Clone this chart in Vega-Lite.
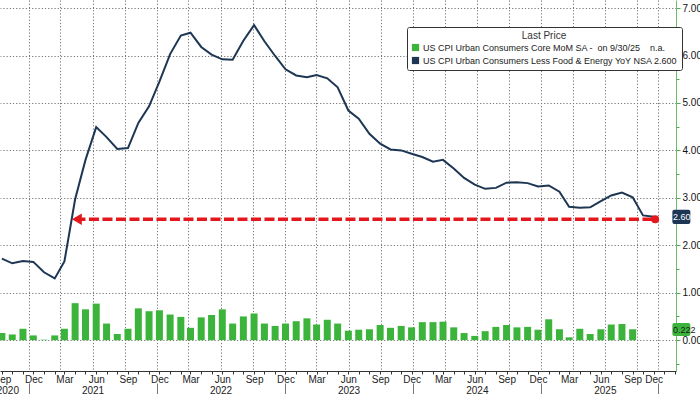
{
  "$schema": "https://vega.github.io/schema/vega-lite/v6.json",
  "width": 676,
  "height": 371,
  "autosize": {"type": "none"},
  "padding": {"left": 0, "top": 0, "right": 24, "bottom": 23},
  "background": "white",
  "config": {"font": "Liberation Sans", "view": {"stroke": null}},
  "datasets": {
    "cpi": [
      {"d": "2020-09-01T00:00", "s": "mom", "v": 0.15},
      {"d": "2020-10-01T00:00", "s": "mom", "v": 0.12},
      {"d": "2020-11-01T00:00", "s": "mom", "v": 0.24},
      {"d": "2020-12-01T00:00", "s": "mom", "v": 0.10},
      {"d": "2021-01-01T00:00", "s": "mom", "v": 0.01},
      {"d": "2021-02-01T00:00", "s": "mom", "v": 0.10},
      {"d": "2021-03-01T00:00", "s": "mom", "v": 0.24},
      {"d": "2021-04-01T00:00", "s": "mom", "v": 0.78},
      {"d": "2021-05-01T00:00", "s": "mom", "v": 0.65},
      {"d": "2021-06-01T00:00", "s": "mom", "v": 0.77},
      {"d": "2021-07-01T00:00", "s": "mom", "v": 0.35},
      {"d": "2021-08-01T00:00", "s": "mom", "v": 0.13},
      {"d": "2021-09-01T00:00", "s": "mom", "v": 0.24},
      {"d": "2021-10-01T00:00", "s": "mom", "v": 0.67},
      {"d": "2021-11-01T00:00", "s": "mom", "v": 0.61},
      {"d": "2021-12-01T00:00", "s": "mom", "v": 0.63},
      {"d": "2022-01-01T00:00", "s": "mom", "v": 0.54},
      {"d": "2022-02-01T00:00", "s": "mom", "v": 0.49},
      {"d": "2022-03-01T00:00", "s": "mom", "v": 0.26},
      {"d": "2022-04-01T00:00", "s": "mom", "v": 0.48},
      {"d": "2022-05-01T00:00", "s": "mom", "v": 0.53},
      {"d": "2022-06-01T00:00", "s": "mom", "v": 0.65},
      {"d": "2022-07-01T00:00", "s": "mom", "v": 0.35},
      {"d": "2022-08-01T00:00", "s": "mom", "v": 0.50},
      {"d": "2022-09-01T00:00", "s": "mom", "v": 0.56},
      {"d": "2022-10-01T00:00", "s": "mom", "v": 0.35},
      {"d": "2022-11-01T00:00", "s": "mom", "v": 0.30},
      {"d": "2022-12-01T00:00", "s": "mom", "v": 0.35},
      {"d": "2023-01-01T00:00", "s": "mom", "v": 0.40},
      {"d": "2023-02-01T00:00", "s": "mom", "v": 0.46},
      {"d": "2023-03-01T00:00", "s": "mom", "v": 0.33},
      {"d": "2023-04-01T00:00", "s": "mom", "v": 0.43},
      {"d": "2023-05-01T00:00", "s": "mom", "v": 0.35},
      {"d": "2023-06-01T00:00", "s": "mom", "v": 0.20},
      {"d": "2023-07-01T00:00", "s": "mom", "v": 0.22},
      {"d": "2023-08-01T00:00", "s": "mom", "v": 0.23},
      {"d": "2023-09-01T00:00", "s": "mom", "v": 0.32},
      {"d": "2023-10-01T00:00", "s": "mom", "v": 0.26},
      {"d": "2023-11-01T00:00", "s": "mom", "v": 0.30},
      {"d": "2023-12-01T00:00", "s": "mom", "v": 0.27},
      {"d": "2024-01-01T00:00", "s": "mom", "v": 0.38},
      {"d": "2024-02-01T00:00", "s": "mom", "v": 0.38},
      {"d": "2024-03-01T00:00", "s": "mom", "v": 0.39},
      {"d": "2024-04-01T00:00", "s": "mom", "v": 0.27},
      {"d": "2024-05-01T00:00", "s": "mom", "v": 0.15},
      {"d": "2024-06-01T00:00", "s": "mom", "v": 0.09},
      {"d": "2024-07-01T00:00", "s": "mom", "v": 0.19},
      {"d": "2024-08-01T00:00", "s": "mom", "v": 0.28},
      {"d": "2024-09-01T00:00", "s": "mom", "v": 0.32},
      {"d": "2024-10-01T00:00", "s": "mom", "v": 0.27},
      {"d": "2024-11-01T00:00", "s": "mom", "v": 0.28},
      {"d": "2024-12-01T00:00", "s": "mom", "v": 0.22},
      {"d": "2025-01-01T00:00", "s": "mom", "v": 0.44},
      {"d": "2025-02-01T00:00", "s": "mom", "v": 0.23},
      {"d": "2025-03-01T00:00", "s": "mom", "v": 0.06},
      {"d": "2025-04-01T00:00", "s": "mom", "v": 0.24},
      {"d": "2025-05-01T00:00", "s": "mom", "v": 0.13},
      {"d": "2025-06-01T00:00", "s": "mom", "v": 0.23},
      {"d": "2025-07-01T00:00", "s": "mom", "v": 0.33},
      {"d": "2025-08-01T00:00", "s": "mom", "v": 0.34},
      {"d": "2025-09-01T00:00", "s": "mom", "v": 0.23},
      {"d": "2020-09-01T00:00", "s": "yoy", "v": 1.72},
      {"d": "2020-10-01T00:00", "s": "yoy", "v": 1.62},
      {"d": "2020-11-01T00:00", "s": "yoy", "v": 1.67},
      {"d": "2020-12-01T00:00", "s": "yoy", "v": 1.65},
      {"d": "2021-01-01T00:00", "s": "yoy", "v": 1.43},
      {"d": "2021-02-01T00:00", "s": "yoy", "v": 1.30},
      {"d": "2021-03-01T00:00", "s": "yoy", "v": 1.66},
      {"d": "2021-04-01T00:00", "s": "yoy", "v": 2.97},
      {"d": "2021-05-01T00:00", "s": "yoy", "v": 3.80},
      {"d": "2021-06-01T00:00", "s": "yoy", "v": 4.49},
      {"d": "2021-07-01T00:00", "s": "yoy", "v": 4.28},
      {"d": "2021-08-01T00:00", "s": "yoy", "v": 4.03},
      {"d": "2021-09-01T00:00", "s": "yoy", "v": 4.05},
      {"d": "2021-10-01T00:00", "s": "yoy", "v": 4.58},
      {"d": "2021-11-01T00:00", "s": "yoy", "v": 4.93},
      {"d": "2021-12-01T00:00", "s": "yoy", "v": 5.45},
      {"d": "2022-01-01T00:00", "s": "yoy", "v": 6.03},
      {"d": "2022-02-01T00:00", "s": "yoy", "v": 6.42},
      {"d": "2022-03-01T00:00", "s": "yoy", "v": 6.48},
      {"d": "2022-04-01T00:00", "s": "yoy", "v": 6.18},
      {"d": "2022-05-01T00:00", "s": "yoy", "v": 6.02},
      {"d": "2022-06-01T00:00", "s": "yoy", "v": 5.92},
      {"d": "2022-07-01T00:00", "s": "yoy", "v": 5.91},
      {"d": "2022-08-01T00:00", "s": "yoy", "v": 6.31},
      {"d": "2022-09-01T00:00", "s": "yoy", "v": 6.64},
      {"d": "2022-10-01T00:00", "s": "yoy", "v": 6.30},
      {"d": "2022-11-01T00:00", "s": "yoy", "v": 5.99},
      {"d": "2022-12-01T00:00", "s": "yoy", "v": 5.71},
      {"d": "2023-01-01T00:00", "s": "yoy", "v": 5.58},
      {"d": "2023-02-01T00:00", "s": "yoy", "v": 5.54},
      {"d": "2023-03-01T00:00", "s": "yoy", "v": 5.59},
      {"d": "2023-04-01T00:00", "s": "yoy", "v": 5.52},
      {"d": "2023-05-01T00:00", "s": "yoy", "v": 5.33},
      {"d": "2023-06-01T00:00", "s": "yoy", "v": 4.84},
      {"d": "2023-07-01T00:00", "s": "yoy", "v": 4.67},
      {"d": "2023-08-01T00:00", "s": "yoy", "v": 4.35},
      {"d": "2023-09-01T00:00", "s": "yoy", "v": 4.14},
      {"d": "2023-10-01T00:00", "s": "yoy", "v": 4.02},
      {"d": "2023-11-01T00:00", "s": "yoy", "v": 4.00},
      {"d": "2023-12-01T00:00", "s": "yoy", "v": 3.93},
      {"d": "2024-01-01T00:00", "s": "yoy", "v": 3.86},
      {"d": "2024-02-01T00:00", "s": "yoy", "v": 3.76},
      {"d": "2024-03-01T00:00", "s": "yoy", "v": 3.80},
      {"d": "2024-04-01T00:00", "s": "yoy", "v": 3.62},
      {"d": "2024-05-01T00:00", "s": "yoy", "v": 3.42},
      {"d": "2024-06-01T00:00", "s": "yoy", "v": 3.28},
      {"d": "2024-07-01T00:00", "s": "yoy", "v": 3.19},
      {"d": "2024-08-01T00:00", "s": "yoy", "v": 3.21},
      {"d": "2024-09-01T00:00", "s": "yoy", "v": 3.32},
      {"d": "2024-10-01T00:00", "s": "yoy", "v": 3.33},
      {"d": "2024-11-01T00:00", "s": "yoy", "v": 3.31},
      {"d": "2024-12-01T00:00", "s": "yoy", "v": 3.24},
      {"d": "2025-01-01T00:00", "s": "yoy", "v": 3.26},
      {"d": "2025-02-01T00:00", "s": "yoy", "v": 3.13},
      {"d": "2025-03-01T00:00", "s": "yoy", "v": 2.81},
      {"d": "2025-04-01T00:00", "s": "yoy", "v": 2.79},
      {"d": "2025-05-01T00:00", "s": "yoy", "v": 2.80},
      {"d": "2025-06-01T00:00", "s": "yoy", "v": 2.93},
      {"d": "2025-07-01T00:00", "s": "yoy", "v": 3.05},
      {"d": "2025-08-01T00:00", "s": "yoy", "v": 3.11},
      {"d": "2025-09-01T00:00", "s": "yoy", "v": 3.01},
      {"d": "2025-10-01T00:00", "s": "yoy", "v": 2.63},
      {"d": "2025-11-01T00:00", "s": "yoy", "v": 2.60}
    ]
  },
  "data": {"name": "cpi"},
  "resolve": {
    "scale": {"x": "independent", "y": "independent"},
    "axis": {"x": "independent", "y": "independent"}
  },
  "layer": [
    {
      "transform": [{"filter": "datum.s == 'yoy'"}],
      "mark": {"type": "point", "opacity": 0},
      "encoding": {
        "x": {
          "field": "d",
          "type": "temporal",
          "scale": {"domain": [{"year": 2020, "month": 9, "date": 10}, {"year": 2025, "month": 12, "date": 21}]},
          "axis": {
            "title": null,
            "orient": "bottom",
            "tickCount": {"interval": "month", "step": 1},
            "labels": false,
            "ticks": false,
            "domain": false,
            "grid": true,
            "gridDash": [1.2, 2],
            "gridColor": "#777777",
            "gridWidth": 1,
            "gridOpacity": {
              "condition": {"test": "(month(datum.value) % 3 == 2 && !(year(datum.value) == 2025 && month(datum.value) == 11)) || (year(datum.value) == 2025 && month(datum.value) == 10)", "value": 1},
              "value": 0
            }
          }
        },
        "y": {
          "field": "v",
          "type": "quantitative",
          "scale": {"domain": [-0.65, 7.17], "nice": false, "zero": false},
          "axis": {
            "title": null,
            "orient": "right",
            "values": [0, 1, 2, 3, 4, 5, 6, 7],
            "labels": false,
            "ticks": false,
            "domain": false,
            "grid": true,
            "gridDash": [1.2, 2],
            "gridColor": "#777777",
            "gridWidth": 1
          }
        }
      }
    },
    {
      "layer": [
        {
          "transform": [{"filter": "datum.s == 'mom'"}],
          "mark": {"type": "bar", "size": 7, "clip": true},
          "encoding": {
            "x": {
              "field": "d",
              "type": "temporal",
              "scale": {"domain": [{"year": 2020, "month": 9, "date": 10}, {"year": 2025, "month": 12, "date": 21}]},
              "axis": {
                "title": null,
                "orient": "bottom",
                "grid": false,
                "tickCount": {"interval": "month", "step": 1},
                "labelExpr": "(year(datum.value) == 2025 && month(datum.value) == 10) ? 'Dec' : ((year(datum.value) == 2025 && month(datum.value) == 11) ? '' : ((month(datum.value) % 3 == 2) ? timeFormat(datum.value, '%b') : ''))",
                "labelOverlap": false,
                "labelFlush": false,
                "labelFontSize": 10,
                "labelColor": "#222",
                "labelPadding": 0,
                "tickSize": 3,
                "tickColor": "#333",
                "domainColor": "#333"
              }
            },
            "y": {
              "field": "v",
              "type": "quantitative",
              "scale": {"domain": [-0.65, 7.17], "nice": false, "zero": false},
              "axis": {
                "title": null,
                "orient": "right",
                "grid": false,
                "values": [0, 1, 2, 3, 4, 5, 6, 7],
                "format": ".3f",
                "labelFontSize": 10,
                "labelColor": "#111",
                "labelPadding": 2,
                "tickSize": 4,
                "tickColor": "#4caf50",
                "domainColor": "#6dbd6d"
              }
            },
            "y2": {"datum": 0},
            "color": {
              "field": "s",
              "type": "nominal",
              "scale": {"domain": ["mom", "yoy"], "range": ["#3cb43c", "#1d3653"]},
              "legend": {
                "orient": "none",
                "legendX": 407,
                "legendY": 27,
                "title": "Last Price",
                "titleAnchor": "middle",
                "titleFontWeight": "normal",
                "titleFontSize": 10,
                "titleColor": "#333",
                "titlePadding": 2,
                "labelFontSize": 9,
                "labelColor": "#222",
                "labelLimit": 400,
                "labelOffset": 3,
                "labelExpr": "datum.label == 'mom' ? 'US CPI Urban Consumers Core MoM SA -\u00a0\u00a0on 9/30/25\u00a0\u00a0\u00a0\u00a0n.a.' : 'US CPI Urban Consumers Less Food & Energy YoY NSA 2.600'",
                "symbolType": "square",
                "symbolSize": 52,
                "symbolStrokeWidth": 0,
                "rowPadding": 3,
                "padding": 4,
                "strokeColor": "#333",
                "fillColor": "white",
                "cornerRadius": 2,
                "encode": {
                  "symbols": {
                    "update": {
                      "fill": {"scale": "color", "field": "value"},
                      "fillOpacity": {"value": 1},
                      "shape": {"value": "square"}
                    }
                  }
                }
              }
            }
          }
        },
        {
          "transform": [{"filter": "datum.s == 'yoy'"}],
          "mark": {"type": "line", "strokeWidth": 2, "clip": true},
          "encoding": {
            "x": {"field": "d", "type": "temporal"},
            "y": {"field": "v", "type": "quantitative"},
            "color": {"field": "s", "type": "nominal"}
          }
        },
        {
          "data": {"values": [{}]},
          "mark": {"type": "rule", "color": "#e3171c", "strokeWidth": 3.4, "strokeDash": [10, 3.5]},
          "encoding": {
            "x": {"datum": {"year": 2021, "month": 4, "date": 2}, "type": "temporal"},
            "x2": {"datum": {"year": 2025, "month": 11, "date": 5}},
            "y": {"datum": 2.55, "type": "quantitative"}
          }
        },
        {
          "data": {"values": [{}]},
          "mark": {"type": "point", "shape": "triangle-left", "filled": true, "size": 130, "color": "#e3171c", "opacity": 1},
          "encoding": {
            "x": {"datum": {"year": 2021, "month": 4, "date": 6}, "type": "temporal"},
            "y": {"datum": 2.55, "type": "quantitative"}
          }
        },
        {
          "data": {"values": [{}]},
          "mark": {"type": "point", "shape": "circle", "filled": true, "size": 64, "color": "#e3171c", "opacity": 1},
          "encoding": {
            "x": {"datum": {"year": 2025, "month": 11, "date": 5}, "type": "temporal"},
            "y": {"datum": 2.55, "type": "quantitative"}
          }
        },
        {
          "data": {"values": [{}]},
          "mark": {"type": "rect", "color": "#1d3653", "cornerRadius": 2},
          "encoding": {
            "x": {"datum": {"year": 2025, "month": 12, "date": 25}, "type": "temporal"},
            "x2": {"datum": {"year": 2026, "month": 2, "date": 15}},
            "y": {"datum": 2.45, "type": "quantitative"},
            "y2": {"datum": 2.75}
          }
        },
        {
          "data": {"values": [{}]},
          "mark": {"type": "text", "text": "2.600", "color": "white", "fontSize": 9, "align": "left", "baseline": "middle"},
          "encoding": {
            "x": {"datum": {"year": 2025, "month": 12, "date": 27}, "type": "temporal"},
            "y": {"datum": 2.6, "type": "quantitative"}
          }
        },
        {
          "data": {"values": [{}]},
          "mark": {"type": "rect", "color": "#3cb43c", "cornerRadius": 2},
          "encoding": {
            "x": {"datum": {"year": 2025, "month": 12, "date": 25}, "type": "temporal"},
            "x2": {"datum": {"year": 2026, "month": 2, "date": 15}},
            "y": {"datum": 0.09, "type": "quantitative"},
            "y2": {"datum": 0.36}
          }
        },
        {
          "data": {"values": [{}]},
          "mark": {"type": "text", "text": "0.222", "color": "#1a1a1a", "fontSize": 9, "align": "left", "baseline": "middle"},
          "encoding": {
            "x": {"datum": {"year": 2025, "month": 12, "date": 27}, "type": "temporal"},
            "y": {"datum": 0.22, "type": "quantitative"}
          }
        }
      ]
    },
    {
      "transform": [{"filter": "datum.s == 'yoy'"}],
      "mark": {"type": "point", "opacity": 0},
      "encoding": {
        "x": {
          "field": "d",
          "type": "temporal",
          "scale": {"domain": [{"year": 2020, "month": 9, "date": 10}, {"year": 2025, "month": 12, "date": 21}]},
          "axis": {
            "title": null,
            "orient": "bottom",
            "tickCount": {"interval": "month", "step": 1},
            "offset": 12,
            "domain": false,
            "grid": false,
            "tickSize": 11,
            "tickColor": "#777",
            "tickOpacity": {
              "condition": {"test": "(month(datum.value) == 11 && year(datum.value) < 2025) || (year(datum.value) == 2025 && month(datum.value) == 10)", "value": 1},
              "value": 0
            },
            "labelExpr": "month(datum.value) == 5 ? timeFormat(datum.value, '%Y') : ((year(datum.value) == 2020 && month(datum.value) == 9) ? '2020' : '')",
            "labelOverlap": false,
            "labelFlush": false,
            "labelPadding": -9,
            "labelFontSize": 10,
            "labelColor": "#222"
          }
        },
        "y": {
          "field": "v",
          "type": "quantitative",
          "scale": {"domain": [-0.65, 7.17], "nice": false, "zero": false},
          "axis": {
            "title": null,
            "orient": "right",
            "values": [-0.5, 0.5, 1.5, 2.5, 3.5, 4.5, 5.5, 6.5],
            "labels": false,
            "domain": false,
            "grid": false,
            "tickSize": 3,
            "tickColor": "#4caf50"
          }
        }
      }
    }
  ]
}
